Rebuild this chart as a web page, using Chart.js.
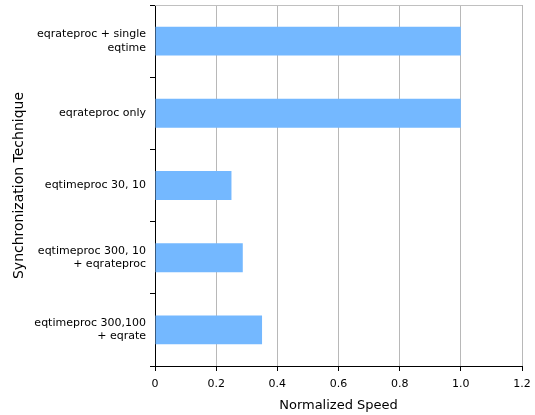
<!DOCTYPE html>
<html><head><meta charset="utf-8">
<script src="https://cdn.jsdelivr.net/npm/chart.js@4"></script>
<style>html,body{margin:0;padding:0;background:#fff}#wrap{width:535px;height:415px}</style>
</head><body><div id="wrap"><canvas id="c" width="535" height="415"></canvas></div>
<script>
const categories = [
  ["eqrateproc + single", "eqtime"],
  "eqrateproc only",
  "eqtimeproc 30, 10",
  ["eqtimeproc 300, 10", "+ eqrateproc"],
  ["eqtimeproc 300,100", "+ eqrate"]
];
const speedValues = [1.0, 1.0, 0.25, 0.287, 0.35];
const xTickValues = [0, 0.2, 0.4, 0.6, 0.8, 1, 1.2];
const xTitle = "Normalized Speed";
const yTitle = "Synchronization Technique";

const FONT = "'DejaVu Sans', Verdana, sans-serif";

const frame = {
  id: 'frame',
  afterDraw(chart) {
    const a = chart.chartArea, ctx = chart.ctx;
    ctx.save();
    ctx.strokeStyle = '#c0c0c0';
    ctx.lineWidth = 1;
    ctx.beginPath();
    ctx.moveTo(a.left, a.top + 0.5);
    ctx.lineTo(a.right, a.top + 0.5);
    ctx.stroke();
    ctx.restore();
  }
};

new Chart(document.getElementById('c'), {
  type: 'bar',
  data: {
    labels: categories,
    datasets: [{
      data: speedValues,
      backgroundColor: '#74b8ff',
      borderWidth: 0,
      barPercentage: 0.4,
      categoryPercentage: 1.0
    }]
  },
  plugins: [frame],
  options: {
    indexAxis: 'y',
    responsive: false,
    animation: false,
    layout: { padding: { left: 0, right: 13, top: 5, bottom: 0 } },
    plugins: { legend: { display: false }, tooltip: { enabled: false } },
    scales: {
      x: {
        min: 0, max: 1.2,
        afterBuildTicks(s) { s.ticks = xTickValues.map(v => ({ value: v })); },
        afterFit(s) { s.height = 49; s.paddingLeft = 0; s.paddingRight = 0; },
        grid: { color: '#b8b8b8', lineWidth: 1, tickColor: '#000', tickLength: 5 },
        border: { color: '#000', width: 1 },
        ticks: { color: '#000', font: { family: FONT, size: 11 }, padding: 7, maxRotation: 0 },
        title: { display: true, text: xTitle, color: '#000', font: { family: FONT, size: 13 }, padding: { top: 4, bottom: 2 } }
      },
      y: {
        afterFit(s) { s.width = 155; s.paddingTop = 0; s.paddingBottom = 0; },
        grid: { drawOnChartArea: false, offset: true, tickColor: '#000', tickLength: 5 },
        border: { color: '#000', width: 1 },
        ticks: { color: '#000', font: { family: FONT, size: 11 }, padding: 4 },
        title: { display: true, text: yTitle, color: '#000', font: { family: FONT, size: 14 }, padding: { top: 11, bottom: 4 } }
      }
    }
  }
});
</script></body></html>
